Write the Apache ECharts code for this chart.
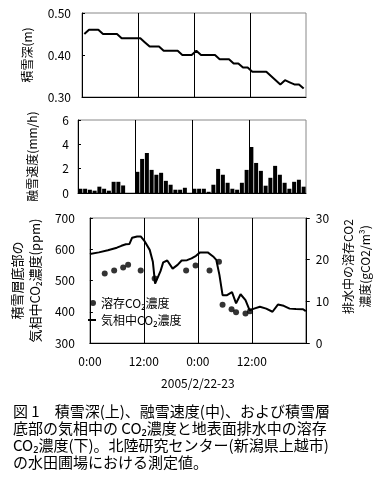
<!DOCTYPE html>
<html><head><meta charset="utf-8">
<script src="https://cdn.jsdelivr.net/npm/echarts@6/dist/echarts.min.js"></script>
<style>html,body{margin:0;padding:0;background:#fff}#c{width:382px;height:486px}</style>
</head><body><div id="c"></div>
<script>
// ---- data ----
const tickLabels = ['0:00', '12:00', '0:00', '12:00', ''];
// hourly snow depth (m), hour i (value plotted at mid-hour)
const snowDepth = [0.45,0.46,0.46,0.46,0.45,0.45,0.45,0.45,0.44,0.44,0.44,0.44,
                   0.44,0.43,0.42,0.42,0.42,0.41,0.41,0.41,0.41,0.40,0.40,0.40,
                   0.41,0.40,0.40,0.40,0.40,0.39,0.39,0.39,0.38,0.38,0.37,0.37,
                   0.36,0.36,0.36,0.36,0.35,0.34,0.33,0.34,0.335,0.33,0.33,0.32];
// hourly snowmelt rate (mm/h)
const meltRate = [0.35,0.35,0.27,0.19,0.52,0.35,0.19,0.92,0.92,0.62,0,0,
                  1.74,2.8,3.29,1.9,1.5,1.66,1.0,0.68,0.27,0.27,0.43,0,
                  0.35,0.35,0.35,0.1,0.68,1.98,1.5,0.84,0.35,0.27,0.84,1.9,
                  3.78,2.47,1.82,0.6,1.25,2.23,1.5,0.84,0.35,0.92,1.09,0.52];
// gas-phase CO2 at snowpack bottom (ppm), time in hours from 2/22 0:00
const gasTime = [0,2,4,6,7,8,8.8,9.4,10.5,11.3,12.2,13.3,14.0,14.5,15.7,16.3,17.2,18.4,19.5,20.4,
                 21.6,22.6,23.6,24.5,26.2,27.4,28.1,28.8,29.5,30.5,31.6,32.5,33.5,34.6,35.5,36.5,
                 37.8,39.2,40.6,41.8,43.1,44.4,45.8,47.4,48];
const gasCO2 = [585,590,597,605,611,616,617,637,641,641,625,598,560,490,530,558,564,538,550,564,
                565,571,579,590,590,577,566,518,453,453,463,427,456,437,405,410,
                416,410,400,423,419,410,409,408,402];
// dissolved CO2 in drainage water (g CO2/m3)
const dissolvedTime = [3.3,5.4,7.4,8.5,11.3,14.4,21.4,23.5,26.6,28.7,29.5,31.5,32.5,34.6,35.6];
const dissolvedCO2 = [16.7,17.4,18.1,18.8,17.4,15.5,17.4,18.6,17.4,19.5,9.2,8.1,7.4,7.1,7.6];
const captionLines = [
  '図 1　積雪深(上)、融雪速度(中)、および積雪層',
  '底部の気相中の CO₂濃度と地表面排水中の溶存',
  'CO₂濃度(下)。北陸研究センター(新潟県上越市)',
  'の水田圃場における測定値。'
];
const nameGas = '気相中CO₂濃度';
const nameDis = '溶存CO₂濃度';

// ---- chart ----
const F = '"Noto Sans CJK JP", "Noto Sans", sans-serif';
const chart = echarts.init(document.getElementById('c'), null, {renderer: 'canvas'});
const gridBase = {show: true, borderColor: '#888', borderWidth: 1, backgroundColor: 'transparent'};
function xAx(grid, showLabels) {
  return {
    type: 'value', gridIndex: grid, min: 0, max: 48, interval: 12,
    axisLine: {show: true, onZero: false, lineStyle: {color: '#000', width: 1}},
    axisTick: {show: false},
    axisLabel: {show: showLabels, color: '#000', fontSize: 12, fontFamily: F, margin: 12,
      formatter: v => tickLabels[Math.round(v / 12)]},
    splitLine: {show: true, showMinLine: false, showMaxLine: false, lineStyle: {color: '#000', width: 1}}
  };
}
function yAx(grid, min, max, interval, name, gap, fmt, margin, nameFont) {
  return {
    type: 'value', gridIndex: grid, min, max, interval,
    name, nameLocation: 'middle', nameRotate: 90, nameGap: gap,
    nameTextStyle: {color: '#000', fontSize: nameFont || 12, fontFamily: F, lineHeight: 18},
    axisLine: {show: true, lineStyle: {color: '#000', width: 1}},
    axisTick: {show: true, inside: true, length: 3, lineStyle: {color: '#000'}},
    axisLabel: {color: '#000', fontSize: 12, fontFamily: F, margin, formatter: fmt},
    splitLine: {show: false}
  };
}
const rightAxis = yAx(2, 0, 30, 10, '排水中の溶存CO2\n濃度(gCO2/m³)', 31, v => String(v), 10);
rightAxis.position = 'right';
rightAxis.axisTick = {show: true, inside: false, length: 4, lineStyle: {color: '#000'}};
rightAxis.nameTextStyle = {color: '#000', fontSize: 12, fontFamily: F, lineHeight: 17,
  padding: [0, 0, 0, 28]};

const option = {
  backgroundColor: '#fff',
  animation: false,
  textStyle: {fontFamily: F},
  grid: [
    Object.assign({left: 82, top: 13, width: 224, height: 84}, gridBase),
    Object.assign({left: 78, top: 120, width: 228, height: 73}, gridBase),
    Object.assign({left: 77, top: 218, width: 230, height: 125}, gridBase)
  ],
  xAxis: [
    xAx(0, false), xAx(1, false),
    Object.assign(xAx(2, true), {name: '2005/2/22-23', nameLocation: 'middle', nameGap: 34,
      nameTextStyle: {color: '#000', fontSize: 12, fontFamily: F}})
  ],
  yAxis: [
    yAx(0, 0.3, 0.5, 0.1, '積雪深(m)', 39, v => v.toFixed(2), 11, 12),
    yAx(1, 0, 6, 2, '融雪速度(mm/h)', 37, v => String(v), 9, 12),
    yAx(2, 300, 700, 100, '積雪層底部の\n気相中CO₂濃度(ppm)', 39, v => String(v), 15, 13),
    rightAxis
  ],
  legend: [
    {data: [{name: nameDis, icon: 'circle'}], left: 90, top: 296, itemWidth: 6, itemHeight: 6,
      padding: 0, textStyle: {color: '#000', fontSize: 12, fontFamily: F, lineHeight: 14}},
    {data: [{name: nameGas, icon: 'rect'}], left: 88, top: 313, itemWidth: 8, itemHeight: 2,
      padding: 0, textStyle: {color: '#000', fontSize: 12, fontFamily: F, lineHeight: 14}}
  ],
  series: [
    {type: 'line', xAxisIndex: 0, yAxisIndex: 0, symbol: 'none', color: '#000',
      lineStyle: {color: '#000', width: 2}, data: snowDepth.map((v, i) => [i + 0.5, v])},
    {type: 'bar', xAxisIndex: 1, yAxisIndex: 1, barWidth: 4, color: '#000',
      itemStyle: {color: '#000'}, data: meltRate.map((v, i) => [i + 0.5, v])},
    {type: 'line', name: nameGas, xAxisIndex: 2, yAxisIndex: 2, symbol: 'none', color: '#000',
      lineStyle: {color: '#000', width: 2}, data: gasTime.map((t, i) => [t, gasCO2[i]])},
    {type: 'scatter', name: nameDis, xAxisIndex: 2, yAxisIndex: 3, symbol: 'circle', symbolSize: 6,
      color: '#000', itemStyle: {color: '#000'}, z: 5,
      data: dissolvedTime.map((t, i) => [t, dissolvedCO2[i]])}
  ],
  graphic: captionLines.map((s, i) => ({
    type: 'text', left: 13, top: 404 + i * 17,
    style: {text: s, fill: '#000', font: '15px ' + F}
  }))
};
chart.setOption(option);
</script></body></html>
